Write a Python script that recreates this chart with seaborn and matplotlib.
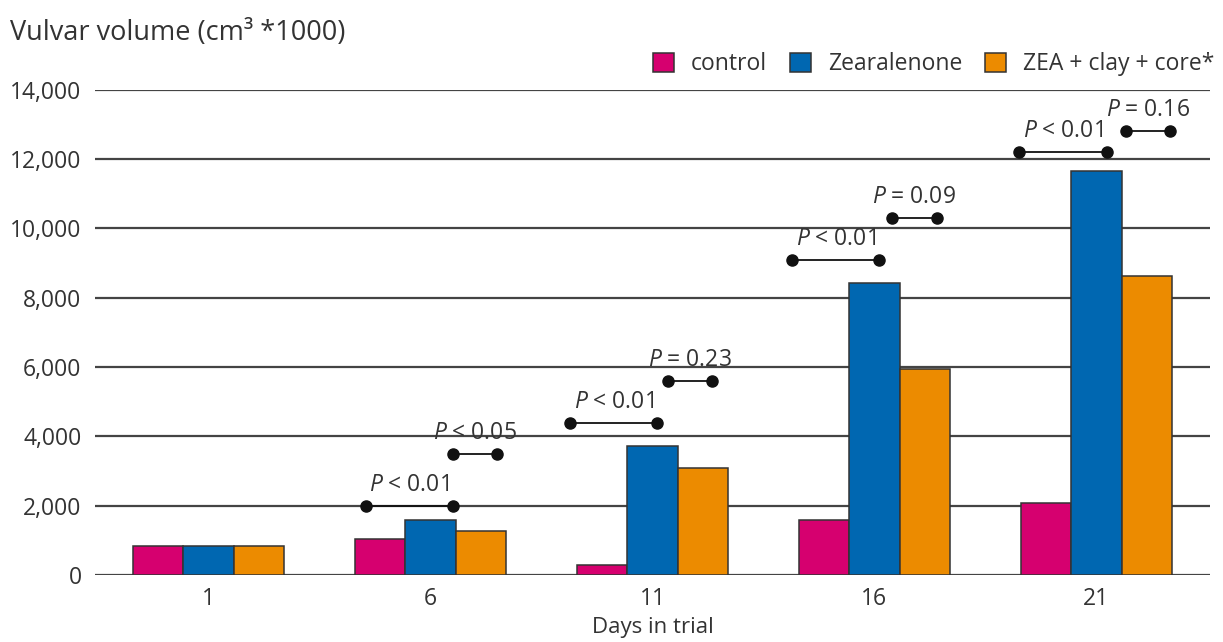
import pandas as pd
import numpy as np
import matplotlib
matplotlib.use("Agg")
import matplotlib.pyplot as plt
import seaborn as sns

# Valeurs
days = ["1", "6", "11", "16", "21"]
control = [850, 1040, 290, 1590, 2080]
zearalenone = [850, 1590, 3720, 8430, 11660]
zea_clay = [850, 1270, 3090, 5950, 8630]
groups = ["control", "Zearalenone", "ZEA + clay + core*"]
colors = ["#D6006F", "#0067B1", "#EC8B00"]

# Comparaisons (jour, debut, fin, hauteur, texte)
ann_day = [1, 1, 2, 2, 3, 3, 4, 4]
ann_start = [-0.29, 0.10, -0.37, 0.07, -0.37, 0.08, -0.35, 0.135]
ann_end = [0.10, 0.30, 0.02, 0.27, 0.02, 0.28, 0.05, 0.33]
ann_y = [2000, 3500, 4400, 5600, 9100, 10300, 12200, 12800]
ann_text = ["< 0.01", "< 0.05", "< 0.01", "= 0.23", "< 0.01", "= 0.09", "< 0.01", "= 0.16"]

df = pd.DataFrame({
    "day": days * 3,
    "group": np.repeat(groups, len(days)),
    "value": control + zearalenone + zea_clay,
})

sns.set_style("white")
plt.rcParams["font.family"] = ["Open Sans", "DejaVu Sans"]
plt.rcParams["mathtext.fontset"] = "custom"
plt.rcParams["mathtext.it"] = "Open Sans:italic"
plt.rcParams["mathtext.rm"] = "Open Sans"

fig = plt.figure(figsize=(12.23, 6.42), dpi=100)
ax = fig.add_axes([0.078, 0.1044, 0.911, 0.7556])

sns.barplot(data=df, x="day", y="value", hue="group", palette=colors,
            saturation=1, width=0.68, edgecolor="#333333", linewidth=1.1,
            ax=ax, zorder=3)

ax.set_ylim(0, 14000)
ax.set_xlim(-0.51, 4.51)
ax.set_yticks(range(0, 14001, 2000))
ax.set_yticklabels([f"{v:,}" for v in range(0, 14001, 2000)])
ax.grid(axis="y", color="#444444", linewidth=1.6, zorder=0)
ax.set_axisbelow(True)
for s in ax.spines.values():
    s.set_visible(False)
ax.tick_params(axis="both", length=0, labelsize=16.5, colors="#333333")
ax.tick_params(axis="y", pad=10)
ax.tick_params(axis="x", pad=9)
ax.set_xlabel("Days in trial", fontsize=16, color="#333333", labelpad=4)
ax.set_ylabel("")
fig.text(0.008, 0.948, "Vulvar volume (cm³ *1000)", fontsize=19.5,
         color="#333333", va="center")

# Crochets de significativite
for d, x0, x1, y, t in zip(ann_day, ann_start, ann_end, ann_y, ann_text):
    ax.plot([d + x0, d + x1], [y, y], color="#111111", lw=1.3,
            marker="o", ms=8, zorder=5, clip_on=False)
    ax.text(d + (x0 + x1) / 2, y + 260, r"$\it{P}$ " + t, ha="center",
            va="bottom", fontsize=16.5, color="#333333", zorder=6)

ax.legend(loc="lower right", bbox_to_anchor=(1.023, 0.986), ncol=3,
          frameon=False, fontsize=16.5, handlelength=0.9, handleheight=0.9,
          columnspacing=1.0, handletextpad=0.75, labelcolor="#333333")

plt.savefig("out.png", dpi=100)
